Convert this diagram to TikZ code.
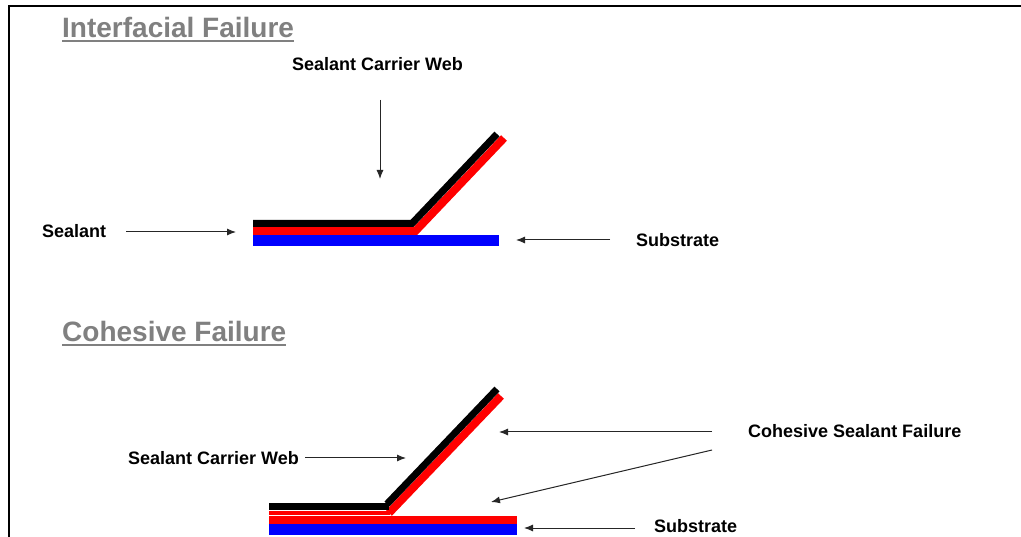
\documentclass[tikz,border=0pt]{standalone}
\usepackage{fontspec}
\setmainfont{Liberation Sans}
\usetikzlibrary{arrows.meta}
\definecolor{titlegray}{RGB}{128,128,128}
\begin{document}
\begin{tikzpicture}[x=1pt,y=-1pt,
  lbl/.style={anchor=west,inner sep=0pt,font=\fontsize{18}{20}\selectfont\bfseries},
  ttl/.style={anchor=west,inner sep=0pt,text=titlegray,font=\fontsize{28}{30}\selectfont\bfseries},
  uline/.style={draw=titlegray,line width=2pt},
  arr/.style={draw=black!85,line width=1pt,-{Latex[length=9pt,width=7pt]}},
  frame/.style={draw=black,line width=2pt}]
\useasboundingbox[fill=white] (0,0) rectangle (1021,537);
\draw[frame] (1021,6) -- (9,6) -- (9,537);

% titles
\node[ttl] (t1) at (62,27.5) {Interfacial Failure};
\draw[uline] ([yshift=-14pt]t1.west) -- ([yshift=-14pt]t1.east);
\node[ttl] (t2) at (62,331.5) {Cohesive Failure};
\draw[uline] ([yshift=-14pt]t2.west) -- ([yshift=-14pt]t2.east);

% ---- interfacial diagram ----
\fill[blue] (253,235) rectangle (499,246);
\draw[red,line width=8pt,line join=miter] (253,231) -- (415.5,231) -- (504,138);
\draw[black,line width=7pt,line join=miter] (253,223.5) -- (412,223.5) -- (497,134);

\node[lbl] (cw1) at (292,64) {Sealant Carrier Web};
\node[lbl] (sl1) at (42,231) {Sealant};
\node[lbl] (sb1) at (636,240) {Substrate};
\coordinate (cw1s) at (380,100);
\coordinate (cw1e) at (380,179);
\coordinate (sl1s) at (126,232);
\coordinate (sl1e) at (236,232);
\coordinate (sb1s) at (610,240);
\coordinate (sb1e) at (516,240);
\draw[arr] (cw1s) -- (cw1e);
\draw[arr] (sl1s) -- (sl1e);
\draw[arr] (sb1s) -- (sb1e);

% ---- cohesive diagram ----
\fill[blue] (269,524) rectangle (517,535);
\fill[red] (269,516) rectangle (517,523.5);
\fill[red] (269,510.5) rectangle (390,514.8);
\draw[red,line width=8pt] (389,513) -- (501,396);
\fill[black] (269,503) rectangle (389,510);
\draw[black,line width=7pt] (387,504) -- (497,389);

\node[lbl] (cw2) at (128,458) {Sealant Carrier Web};
\node[lbl] (csf) at (748,431) {Cohesive Sealant Failure};
\node[lbl] (sb2) at (654,526) {Substrate};
\coordinate (cw2s) at (305,458);
\coordinate (cw2e) at (406,458);
\coordinate (c1s) at (712,432);
\coordinate (c1e) at (499,432);
\coordinate (c2s) at (712,450);
\coordinate (c2e) at (491,502);
\coordinate (sb2s) at (635,528);
\coordinate (sb2e) at (524,528);
\draw[arr] (cw2s) -- (cw2e);
\draw[arr] (c1s) -- (c1e);
\draw[arr] (c2s) -- (c2e);
\draw[arr] (sb2s) -- (sb2e);
\end{tikzpicture}
\end{document}
